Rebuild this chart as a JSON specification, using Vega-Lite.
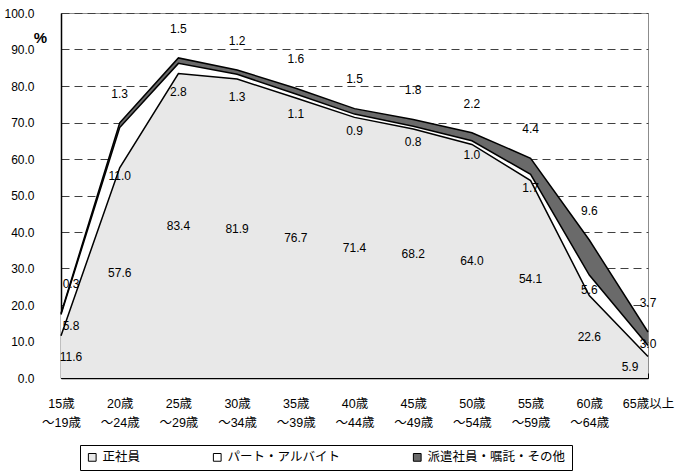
{
  "$schema": "https://vega.github.io/schema/vega-lite/v6.json",
  "width": 587,
  "height": 365,
  "autosize": {"type": "none"},
  "padding": {"left": 61, "top": 13, "right": 31, "bottom": 95},
  "config": {
    "font": "Liberation Sans, Noto Sans CJK JP",
    "view": {"stroke": "#8c8c8c", "strokeWidth": 1},
    "axis": {"labelColor": "black", "labelFontSize": 12, "labelFont": "Liberation Sans, Noto Sans CJK JP"}
  },
  "data": {
    "values": [
      {"age": "15歳～19歳", "type": "正社員", "order": 1, "value": 11.6},
      {"age": "20歳～24歳", "type": "正社員", "order": 1, "value": 57.6},
      {"age": "25歳～29歳", "type": "正社員", "order": 1, "value": 83.4},
      {"age": "30歳～34歳", "type": "正社員", "order": 1, "value": 81.9},
      {"age": "35歳～39歳", "type": "正社員", "order": 1, "value": 76.7},
      {"age": "40歳～44歳", "type": "正社員", "order": 1, "value": 71.4},
      {"age": "45歳～49歳", "type": "正社員", "order": 1, "value": 68.2},
      {"age": "50歳～54歳", "type": "正社員", "order": 1, "value": 64.0},
      {"age": "55歳～59歳", "type": "正社員", "order": 1, "value": 54.1},
      {"age": "60歳～64歳", "type": "正社員", "order": 1, "value": 22.6},
      {"age": "65歳以上", "type": "正社員", "order": 1, "value": 5.9},
      {"age": "15歳～19歳", "type": "パート・アルバイト", "order": 2, "value": 5.8},
      {"age": "20歳～24歳", "type": "パート・アルバイト", "order": 2, "value": 11.0},
      {"age": "25歳～29歳", "type": "パート・アルバイト", "order": 2, "value": 2.8},
      {"age": "30歳～34歳", "type": "パート・アルバイト", "order": 2, "value": 1.3},
      {"age": "35歳～39歳", "type": "パート・アルバイト", "order": 2, "value": 1.1},
      {"age": "40歳～44歳", "type": "パート・アルバイト", "order": 2, "value": 0.9},
      {"age": "45歳～49歳", "type": "パート・アルバイト", "order": 2, "value": 0.8},
      {"age": "50歳～54歳", "type": "パート・アルバイト", "order": 2, "value": 1.0},
      {"age": "55歳～59歳", "type": "パート・アルバイト", "order": 2, "value": 1.7},
      {"age": "60歳～64歳", "type": "パート・アルバイト", "order": 2, "value": 5.6},
      {"age": "65歳以上", "type": "パート・アルバイト", "order": 2, "value": 3.0},
      {"age": "15歳～19歳", "type": "派遣社員・嘱託・その他", "order": 3, "value": 0.3},
      {"age": "20歳～24歳", "type": "派遣社員・嘱託・その他", "order": 3, "value": 1.3},
      {"age": "25歳～29歳", "type": "派遣社員・嘱託・その他", "order": 3, "value": 1.5},
      {"age": "30歳～34歳", "type": "派遣社員・嘱託・その他", "order": 3, "value": 1.2},
      {"age": "35歳～39歳", "type": "派遣社員・嘱託・その他", "order": 3, "value": 1.6},
      {"age": "40歳～44歳", "type": "派遣社員・嘱託・その他", "order": 3, "value": 1.5},
      {"age": "45歳～49歳", "type": "派遣社員・嘱託・その他", "order": 3, "value": 1.8},
      {"age": "50歳～54歳", "type": "派遣社員・嘱託・その他", "order": 3, "value": 2.2},
      {"age": "55歳～59歳", "type": "派遣社員・嘱託・その他", "order": 3, "value": 4.4},
      {"age": "60歳～64歳", "type": "派遣社員・嘱託・その他", "order": 3, "value": 9.6},
      {"age": "65歳以上", "type": "派遣社員・嘱託・その他", "order": 3, "value": 3.7}
    ]
  },
  "transform": [
    {"stack": "value", "groupby": ["age"], "sort": [{"field": "order", "order": "ascending"}], "as": ["y0", "y1"]},
    {"calculate": "datum.order == 1 ? datum.y1 / 2 : (datum.order == 2 ? 0.89 * datum.y0 + 4 : datum.y1 + 8)", "as": "labelY"}
  ],
  "encoding": {
    "x": {
      "field": "age",
      "type": "ordinal",
      "sort": ["15歳～19歳", "20歳～24歳", "25歳～29歳", "30歳～34歳", "35歳～39歳", "40歳～44歳", "45歳～49歳", "50歳～54歳", "55歳～59歳", "60歳～64歳", "65歳以上"],
      "scale": {"type": "point", "padding": 0},
      "axis": {
        "title": null,
        "labelAngle": 0,
        "domainColor": "black",
        "domainWidth": 1.5,
        "tickColor": "black",
        "tickSize": -5,
        "labelPadding": 24,
        "labelFontSize": 12.5,
        "labelLineHeight": 19,
        "labelBaseline": "top",
        "labelExpr": "indexof(datum.label, '～') > 0 ? [slice(datum.label, 0, indexof(datum.label, '～')), slice(datum.label, indexof(datum.label, '～'))] : datum.label"
      }
    },
    "y": {
      "field": "y1",
      "type": "quantitative",
      "scale": {"domain": [0, 100]},
      "axis": {
        "title": "%",
        "titleAngle": 0,
        "titleX": -21,
        "titleY": 24,
        "titleAlign": "center",
        "titleBaseline": "middle",
        "titleFontSize": 15,
        "titleFontWeight": "bold",
        "titleColor": "black",
        "values": [0, 10, 20, 30, 40, 50, 60, 70, 80, 90, 100],
        "labelOverlap": false,
        "format": ".1f",
        "ticks": false,
        "labelPadding": 27,
        "domainColor": "black",
        "domainWidth": 1.5,
        "grid": true,
        "gridColor": "#404040",
        "gridDash": [8, 5],
        "gridWidth": 1
      }
    }
  },
  "layer": [
    {
      "mark": {"type": "area", "opacity": 1},
      "encoding": {
        "y2": {"field": "y0"},
        "fill": {
          "field": "type",
          "type": "nominal",
          "sort": ["正社員", "パート・アルバイト", "派遣社員・嘱託・その他"],
          "scale": {"domain": ["正社員", "パート・アルバイト", "派遣社員・嘱託・その他"], "range": ["#e8e8e8", "#ffffff", "#6a6a6a"]},
          "legend": {
            "title": null,
            "orient": "none",
            "legendX": 19,
            "legendY": 432,
            "direction": "horizontal",
            "symbolType": "square",
            "symbolSize": 60,
            "symbolStrokeColor": "black",
            "symbolStrokeWidth": 1,
            "symbolOpacity": 1,
            "labelFontSize": 12.5,
            "labelColor": "black",
            "labelFont": "Noto Sans CJK JP",
            "columnPadding": 70,
            "padding": 6,
            "strokeColor": "black"
          }
        }
      }
    },
    {
      "mark": {"type": "line", "color": "black", "strokeWidth": 1.5},
      "encoding": {
        "detail": {"field": "type", "type": "nominal"}
      }
    },
    {
      "transform": [{"filter": "datum.age != '15歳～19歳' && !(datum.age == '65歳以上' && datum.order == 1)"}],
      "mark": {"type": "text", "fontSize": 12, "color": "black", "baseline": "middle"},
      "encoding": {
        "y": {"field": "labelY", "type": "quantitative"},
        "text": {"field": "value", "type": "quantitative", "format": ".1f"}
      }
    },
    {
      "transform": [{"filter": "datum.age == '15歳～19歳'"}],
      "mark": {"type": "text", "fontSize": 12, "color": "black", "baseline": "middle", "dx": 10},
      "encoding": {
        "y": {"field": "labelY", "type": "quantitative"},
        "text": {"field": "value", "type": "quantitative", "format": ".1f"}
      }
    },
    {
      "transform": [{"filter": "datum.age == '65歳以上' && datum.order == 1"}],
      "mark": {"type": "text", "fontSize": 12, "color": "black", "baseline": "middle", "dx": -18},
      "encoding": {
        "y": {"field": "labelY", "type": "quantitative"},
        "text": {"field": "value", "type": "quantitative", "format": ".1f"}
      }
    }
  ]
}
